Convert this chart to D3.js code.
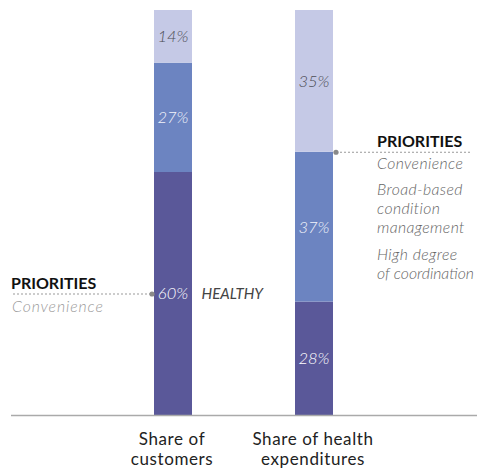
<!DOCTYPE html>
<html>
<head>
<meta charset="utf-8">
<script src="https://cdn.jsdelivr.net/npm/d3@7"></script>
<style>
  html, body { margin: 0; padding: 0; background: #fff; }
  svg { display: block; font-family: Lato, "Open Sans", sans-serif; }
</style>
</head>
<body>
<svg id="chart" width="477" height="470"></svg>
<script>
// ---- data ----
const categories = ["Share of customers", "Share of health expenditures"];
const categoryLines = [["Share of", "customers"], ["Share of health", "expenditures"]];
const segments = ["healthy", "middle", "top"];
// bar heights (bottom to top)
const customersValues = [60, 27, 13];
const expendituresValues = [28, 37, 35];
// printed labels
const customersLabels = ["60%", "27%", "14%"];
const expendituresLabels = ["28%", "37%", "35%"];
const segmentColors = ["#5a5899", "#6c84c1", "#c5c9e6"];
const labelColors = ["#ffffff", "#f2f4fb", "#4d4d55"];
const leftPriorities = ["Convenience"];
const rightPriorities = [["Convenience"], ["Broad-based", "condition", "management"], ["High degree", "of coordination"]];

const series = [
  { cat: categories[0], values: customersValues, labels: customersLabels },
  { cat: categories[1], values: expendituresValues, labels: expendituresLabels }
];

const svg = d3.select("#chart");

const x = d3.scaleBand().domain(categories).range([154, 333]).paddingInner(103 / 141).paddingOuter(0);
const y = d3.scaleLinear().domain([0, 100]).range([415, 10]);

series.forEach(s => {
  let acc = 0;
  s.stack = s.values.map((v, i) => {
    const d = { y0: acc, y1: acc + v, i, label: s.labels[i], cat: s.cat };
    acc += v;
    return d;
  });
});

const g = svg.append("g");
series.forEach(s => {
  g.selectAll(null).data(s.stack).enter().append("rect")
    .attr("x", d => x(d.cat))
    .attr("width", x.bandwidth())
    .attr("y", d => y(d.y1))
    .attr("height", d => y(d.y0) - y(d.y1))
    .attr("fill", d => segmentColors[d.i]);
  g.selectAll(null).data(s.stack).enter().append("text")
    .attr("x", d => x(d.cat) + x.bandwidth() / 2)
    .attr("y", d => (y(d.y0) + y(d.y1)) / 2)
    .attr("dy", "0.36em")
    .attr("text-anchor", "middle")
    .attr("font-style", "italic")
    .attr("font-weight", 300)
    .attr("font-size", 16.5)
    .attr("fill", d => labelColors[d.i])
    .text(d => d.label);
});

// baseline axis
const axis = d3.axisBottom(x).tickSize(0).tickFormat("");
const axG = svg.append("g").attr("transform", `translate(0,${y(0) + 0.5})`).call(axis);
axG.select(".domain").attr("d", "M11,0H477").attr("stroke", "#aaaaaa").attr("stroke-width", 1.5);

// category labels
categories.forEach((c, ci) => {
  const cx = x(c) + x.bandwidth() / 2 - 1;
  categoryLines[ci].forEach((line, li) => {
    svg.append("text")
      .attr("x", cx)
      .attr("y", 444.5 + li * 20.5)
      .attr("text-anchor", "middle")
      .attr("font-size", 17)
      .attr("letter-spacing", 0.6)
      .attr("fill", "#222")
      .text(line);
  });
});

// HEALTHY label
const c0 = series[0].stack[0];
svg.append("text")
  .attr("x", x(categories[0]) + x.bandwidth() + 9.5)
  .attr("y", (y(c0.y0) + y(c0.y1)) / 2)
  .attr("dy", "0.36em")
  .attr("font-style", "italic")
  .attr("font-size", 15)
  .attr("fill", "#444")
  .text("HEALTHY");

// left annotation
const ly = (y(c0.y0) + y(c0.y1)) / 2 + 0.5;
const lx = x(categories[0]) - 2;
svg.append("line").attr("x1", 13).attr("x2", lx).attr("y1", ly).attr("y2", ly)
  .attr("stroke", "#999").attr("stroke-width", 1).attr("stroke-dasharray", "2,2");
svg.append("circle").attr("cx", lx).attr("cy", ly).attr("r", 2.6).attr("fill", "#8a8a8a");
svg.append("text").attr("x", 11).attr("y", 288.5).attr("font-weight", 700).attr("font-size", 16)
  .attr("fill", "#111").text("PRIORITIES");
leftPriorities.forEach((t, i) => {
  svg.append("text").attr("x", 12).attr("y", 312 + i * 20).attr("font-style", "italic")
    .attr("font-weight", 300).attr("font-size", 15.8).attr("letter-spacing", 0.9)
    .attr("fill", "#9a9a9a").text(t);
});

// right annotation
const e1 = series[1].stack[1];
const ry = y(e1.y1) + 0.5;
const rx = x(categories[1]) + x.bandwidth() + 3;
svg.append("line").attr("x1", rx).attr("x2", 470).attr("y1", ry).attr("y2", ry)
  .attr("stroke", "#999").attr("stroke-width", 1).attr("stroke-dasharray", "2,2");
svg.append("circle").attr("cx", rx).attr("cy", ry).attr("r", 2.6).attr("fill", "#8a8a8a");
svg.append("text").attr("x", 377).attr("y", 146.5).attr("font-weight", 700).attr("font-size", 16)
  .attr("fill", "#111").text("PRIORITIES");
const maxW = 476 - 377 - 2;
let ty = 168.5;
rightPriorities.forEach((grp, gi) => {
  grp.forEach((line, li) => {
    const t = svg.append("text").attr("x", 377).attr("y", ty + li * 19).attr("font-style", "italic")
      .attr("font-weight", 300).attr("font-size", 15.8).attr("letter-spacing", 0.4)
      .attr("fill", "#666").text(line);
    const w = t.node().getBBox().width;
    if (w > maxW) {
      t.attr("letter-spacing", 0).attr("textLength", maxW).attr("lengthAdjust", "spacingAndGlyphs");
    }
  });
  ty += (grp.length - 1) * 19 + 26.5;
});
</script>
</body>
</html>
